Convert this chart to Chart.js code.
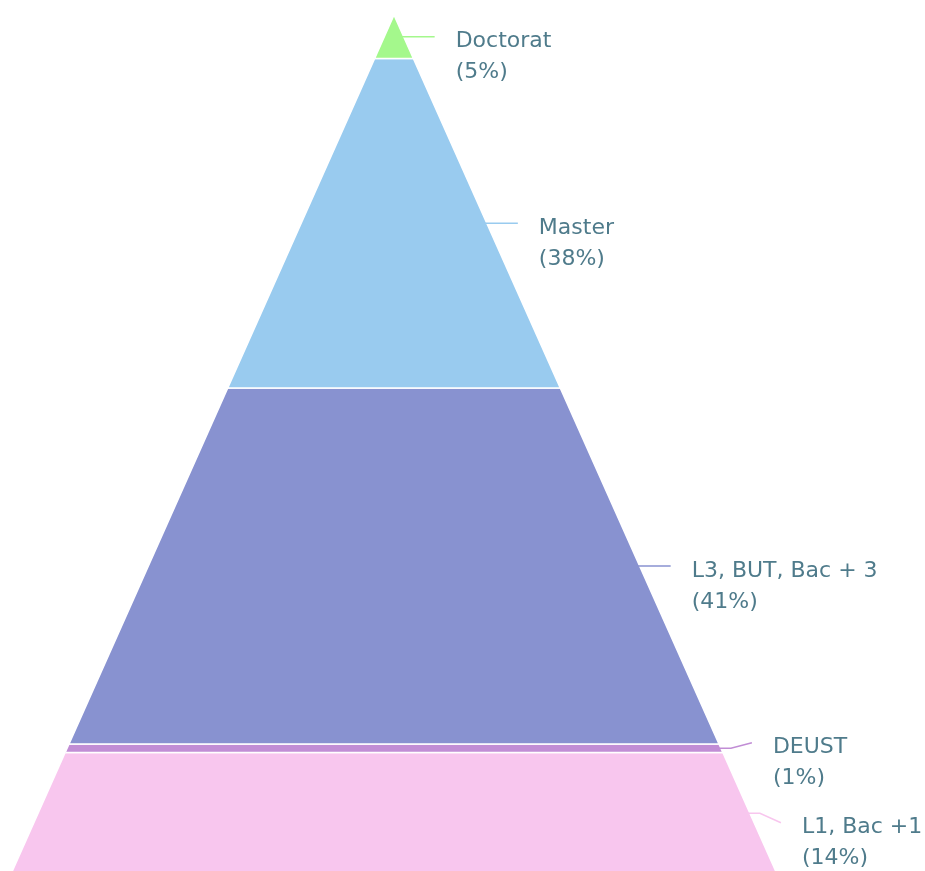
<!DOCTYPE html>
<html>
<head>
<meta charset="utf-8">
<script src="https://cdn.jsdelivr.net/npm/chart.js@4/dist/chart.umd.min.js"></script>
<style>
  body { margin: 0; background: #fff; }
  #wrap { width: 925px; height: 871px; position: relative; }
</style>
</head>
<body>
<div id="wrap"><canvas id="pyramid"></canvas></div>
<script>
const categories = ['Doctorat', 'Master', 'L3, BUT, Bac + 3', 'DEUST', 'L1, Bac +1'];
const shares = [5, 38, 41, 1, 14];
const colors = ['#a4f88c', '#99cbef', '#8892d0', '#c18dd5', '#f8c6ee'];

const total = shares.reduce((a, b) => a + b, 0);
// half width of the pyramid at a given height (base = 1)
const halfWidth = y => (total - y) / total;

// build one closed trapezoid per level, from the top down
let level = total;
const segments = shares.map(v => {
  const t = level, b = level - v;
  level = b;
  return { top: t, bottom: b, mid: (t + b) / 2 };
});

const datasets = segments.map((s, i) => ({
  label: categories[i],
  data: [
    { x: -halfWidth(s.bottom), y: s.bottom },
    { x: halfWidth(s.bottom), y: s.bottom },
    { x: halfWidth(s.top), y: s.top },
    { x: -halfWidth(s.top), y: s.top },
    { x: -halfWidth(s.bottom), y: s.bottom }
  ],
  showLine: true,
  fill: 'shape',
  backgroundColor: colors[i],
  borderColor: '#ffffff',
  borderWidth: 1.5,
  pointRadius: 0,
  tension: 0
}));

const labelPlugin = {
  id: 'pyramidLabels',
  afterDatasetsDraw(chart) {
    const ctx = chart.ctx;
    const xs = chart.scales.x, ys = chart.scales.y;
    const pts = segments.map(s => ({
      py: ys.getPixelForValue(s.mid),
      ex: xs.getPixelForValue(halfWidth(s.mid))
    }));
    // keep labels from overlapping
    const gap = 80;
    pts.forEach(p => p.ly = p.py);
    for (let i = 1; i < pts.length; i++) {
      const d = pts[i].ly - pts[i - 1].ly;
      if (d < gap) {
        pts[i - 1].ly -= (gap - d) / 2 - 2;
        pts[i].ly += (gap - d) / 2 + 2;
      }
    }
    ctx.save();
    pts.forEach((p, i) => {
      ctx.strokeStyle = colors[i];
      ctx.lineWidth = 1.5;
      ctx.beginPath();
      ctx.moveTo(p.ex - 2, p.py);
      ctx.lineTo(p.ex + 10, p.py);
      ctx.lineTo(p.ex + 31, p.ly);
      ctx.stroke();

      ctx.fillStyle = '#4f7b8b';
      ctx.font = '22px "DejaVu Sans"';
      ctx.textBaseline = 'middle';
      ctx.textAlign = 'left';
      ctx.fillText(categories[i], p.ex + 52, p.ly + 5);
      ctx.fillText('(' + shares[i] + '%)', p.ex + 52, p.ly + 36);
    });
    ctx.restore();
  }
};

new Chart(document.getElementById('pyramid'), {
  type: 'scatter',
  data: { datasets },
  options: {
    responsive: true,
    maintainAspectRatio: false,
    animation: false,
    layout: { padding: { left: 11, right: 148, top: 15, bottom: 0 } },
    scales: {
      x: { type: 'linear', min: -1, max: 1, display: false },
      // the base of the pyramid sits just below the bottom edge
      y: { type: 'linear', min: 0.35, max: total, display: false }
    },
    plugins: {
      legend: { display: false },
      tooltip: { enabled: false }
    }
  },
  plugins: [labelPlugin]
});
</script>
</body>
</html>
